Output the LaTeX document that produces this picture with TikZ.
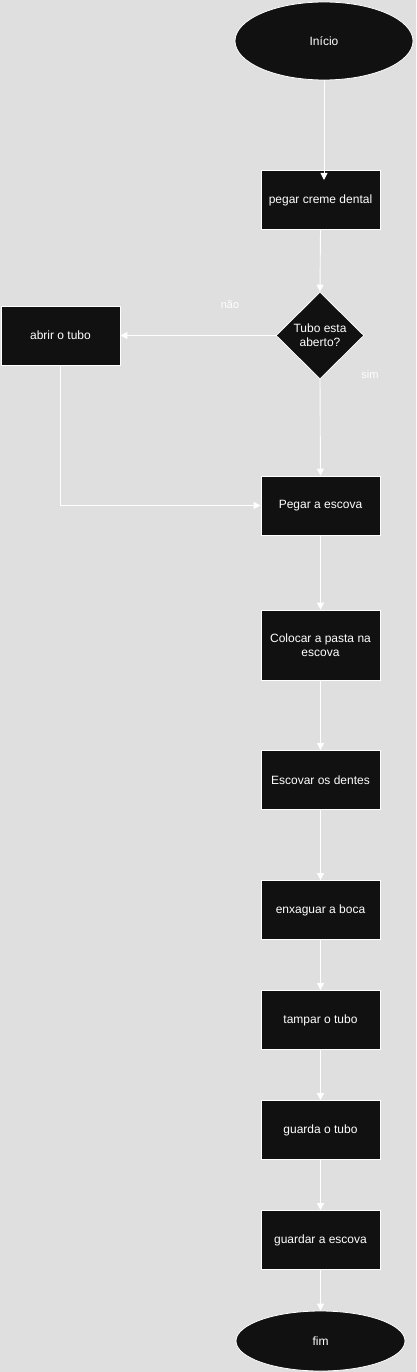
\documentclass[tikz,border=0pt]{standalone}
\usepackage{fontspec}
\setmainfont{Liberation Sans}
\usetikzlibrary{shapes.geometric,arrows.meta}
\definecolor{bg}{HTML}{DFDFDF}
\definecolor{boxfill}{HTML}{111111}
\begin{document}
\begin{tikzpicture}[x=1pt,y=-1pt,
  every node/.style={font=\fontsize{12}{14}\selectfont, text=white},
  proc/.style={draw=white, fill=boxfill, minimum width=119pt, minimum height=59pt, inner sep=0pt, align=center, line width=0.8pt},
  term/.style={ellipse, draw=white, fill=boxfill, inner sep=0pt, line width=0.8pt},
  dec/.style={diamond, draw=white, fill=boxfill, minimum width=88pt, minimum height=87pt, inner sep=0pt, align=center, line width=0.8pt},
  conn/.style={draw=white, line width=0.9pt, -{Triangle[width=7pt,length=7pt]}},
  lbl/.style={font=\fontsize{11}{13}\selectfont}]
\fill[bg] (0,0) rectangle (416,1372);
\useasboundingbox (0,0) rectangle (416,1372);
\node[term, minimum width=178pt, minimum height=78pt] (inicio) at (324,41) {Início};
\node[proc] (creme) at (320.5,200) {pegar creme dental};
\node[dec] (tubo) at (320,335.5) {Tubo esta\\aberto?};
\node[proc] (abrir) at (60.5,335.5) {abrir o tubo};
\node[proc] (escova) at (320.5,505.5) {Pegar a escova};
\node[proc, minimum height=70pt] (pasta) at (320.5,645) {Colocar a pasta na\\escova};
\node[proc] (dentes) at (320.5,780) {Escovar os dentes};
\node[proc] (boca) at (320.5,910) {enxaguar a boca};
\node[proc] (tampar) at (320.5,1020) {tampar o tubo};
\node[proc] (guarda) at (320.5,1130) {guarda o tubo};
\node[proc] (gescova) at (320.5,1240) {guardar a escova};
\node[term, minimum width=169pt, minimum height=60pt] (fim) at (320.5,1341) {fim};
\coordinate (c1) at (324,180);
\draw[conn] (inicio.south) -- (c1);
\draw[conn] (creme.south) -- (tubo.north);
\draw[conn] (tubo.west) -- (abrir.east);
\draw[conn] (tubo.south) -- (escova.north);
\draw[conn] (abrir.south) |- (escova.west);
\draw[conn] (escova.south) -- (pasta.north);
\draw[conn] (pasta.south) -- (dentes.north);
\draw[conn] (dentes.south) -- (boca.north);
\draw[conn] (boca.south) -- (tampar.north);
\draw[conn] (tampar.south) -- (guarda.north);
\draw[conn] (guarda.south) -- (gescova.north);
\draw[conn] (gescova.south) -- (fim.north);
\node[lbl] (nao) at (230,305) {não};
\node[lbl] (sim) at (370,375) {sim};
\end{tikzpicture}
\end{document}
